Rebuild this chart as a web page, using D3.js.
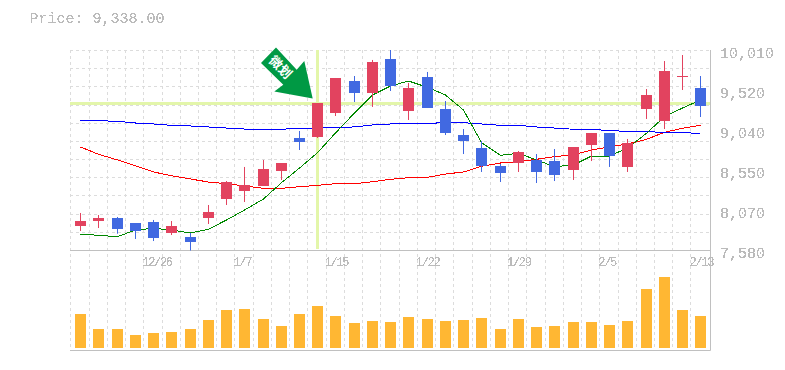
<!DOCTYPE html>
<html><head><meta charset="utf-8">
<style>html,body{margin:0;padding:0;background:#fff}svg{display:block}
text{font-family:"Liberation Mono",monospace}</style>
<script src="https://cdnjs.cloudflare.com/ajax/libs/d3/7.8.5/d3.min.js"></script>
</head><body><div id="c"></div>
<script>
const open_=[7878,7938,7975,7914,7926,7793,7744,7975,8206,8303,8364,8546,8947,8959,9251,9639,9494,9907,9275,9688,9299,8983,8825,8607,8643,8680,8667,8558,8862,9008,8595,9299,9153,9688,9554];
const close_=[7938,7975,7841,7817,7732,7878,7683,8048,8412,8376,8570,8643,8898,9372,9676,9494,9870,9579,9554,9311,9008,8910,8607,8522,8777,8534,8497,8837,9008,8728,8886,9469,9761,9700,9338];
const high=[8036,8011,7987,7914,7951,7938,7793,8133,8424,8595,8680,8643,9032,9372,9676,9700,9895,10016,9615,9749,9396,9056,8910,8631,8789,8752,8813,8837,9008,9008,8935,9542,9882,9955,9700];
const low=[7817,7853,7784,7720,7695,7768,7580,7902,8133,8169,8364,8437,8801,8947,9214,9384,9324,9518,9166,9311,8983,8752,8534,8412,8534,8400,8424,8437,8667,8595,8534,9178,9056,9530,9202];
const maGreen=[7777,7765,7748,7829,7850,7829,7793,7838,7951,8072,8206,8404,8582,8768,9008,9251,9469,9579,9639,9563,9469,9287,8890,8737,8761,8680,8598,8619,8728,8728,8825,9004,9206,9311,9409];
const maBlue=[9162,9157,9150,9129,9117,9101,9093,9081,9068,9056,9056,9053,9065,9065,9077,9081,9105,9117,9125,9125,9133,9133,9117,9101,9101,9081,9068,9053,9053,9036,9028,9028,9011,9011,9004];
const maRed=[8838,8749,8680,8610,8534,8489,8449,8412,8392,8364,8336,8336,8355,8372,8392,8392,8416,8445,8465,8469,8509,8534,8603,8643,8659,8688,8720,8744,8801,8838,8874,8931,9016,9065,9101];
const volume=[34,19,19,13,15,16,19,28,38,39,29,22,34,42,32,25,27,26,31,29,27,28,30,19,29,21,22,26,26,23,27,59,71,38,32];
const priceTicks=[10010,9520,9040,8550,8070,7580];
const dateTicks=[[4,"12/26"],[9,"1/7"],[14,"1/15"],[19,"1/22"],[24,"1/29"],[29,"2/5"],[34,"2/13"]];
const title="Price: 9,338.00";
const crossIndex=13, crossPrice=9372;

const W=785,H=370,red="#e2435f",blue="#4169e1",bar="#ffb733",muted="#bbbbbb",gridC="#dcdcdc",frame="#c0c0c0",cross="#e3f6aa";
const n=close_.length;
const x=d3.scaleLinear().domain([0,n]).range([70.3,708.7]);
const cx=i=>Math.round(x(i+.5)+.7)+.5;
const y=d3.scaleLinear().domain([7580,10010]).range([250.5,50.5]);
const v=d3.scaleLinear().domain([0,100]).range([348,248]);
const svg=d3.select("#c").append("svg").attr("width",W).attr("height",H);

// aliased look for text, as in the reference
const f=svg.append("defs").append("filter").attr("id","hard").attr("color-interpolation-filters","sRGB")
 .attr("x",0).attr("y",-.2).attr("width",1.1).attr("height",1.4);
f.append("feComponentTransfer").append("feFuncA").attr("type","discrete").attr("tableValues","0 0 1 1 1");

// grid
const gp=d3.range(12).map(k=>7580+k*2430/11);
svg.append("g").selectAll("line").data(gp).join("line")
 .attr("x1",70).attr("x2",710).attr("y1",d=>Math.floor(y(d))+.5).attr("y2",d=>Math.floor(y(d))+.5)
 .attr("stroke",gridC).attr("stroke-dasharray","3 3");
svg.append("g").selectAll("line").data(d3.range(n)).join("line")
 .attr("x1",i=>Math.round(x(i))+.5).attr("x2",i=>Math.round(x(i))+.5).attr("y1",50).attr("y2",350)
 .attr("stroke",gridC).attr("stroke-dasharray","3 3");

// crosshair
svg.append("line").attr("x1",70).attr("x2",710).attr("y1",y(crossPrice)+.5).attr("y2",y(crossPrice)+.5).attr("stroke",cross).attr("stroke-width",3);
svg.append("line").attr("x1",cx(crossIndex)).attr("x2",cx(crossIndex)).attr("y1",50).attr("y2",249).attr("stroke",cross).attr("stroke-width",3);

// frame
svg.append("path").attr("d","M710.5,50V350.5H70M70,250.5H710").attr("fill","none").attr("stroke",frame);

// volume
svg.append("g").selectAll("rect").data(volume).join("rect")
 .attr("x",(d,i)=>cx(i)-5.5).attr("width",11).attr("y",d=>v(d)).attr("height",d=>v(0)-v(d)).attr("fill",bar);

// moving averages
const line=d3.line().x((d,i)=>cx(i)).y(d=>y(d));
[[maRed,"#f00"],[maBlue,"#00f"],[maGreen,"#080"]].forEach(([s,c])=>{
 svg.append("path").attr("d",line(s)).attr("fill","none").attr("stroke",c).attr("stroke-width",1).attr("shape-rendering","crispEdges");
});

// candles
const g=svg.append("g");
const col=i=>close_[i]>=open_[i]?red:blue;
g.selectAll(".w").data(d3.range(n)).join("line").attr("class","w")
 .attr("x1",cx).attr("x2",cx).attr("y1",i=>y(high[i])).attr("y2",i=>y(low[i])).attr("stroke",col);
g.selectAll(".b").data(d3.range(n)).join("rect").attr("class","b")
 .attr("x",i=>cx(i)-5.5).attr("width",11)
 .attr("y",i=>Math.round(y(Math.max(open_[i],close_[i]))))
 .attr("height",i=>Math.max(1,Math.round(y(Math.min(open_[i],close_[i])))-Math.round(y(Math.max(open_[i],close_[i])))))
 .attr("fill",col);

// arrow
const a=svg.append("g").attr("transform",`translate(${cx(crossIndex)-4.8},${y(crossPrice)-4.5})`);
a.append("path").attr("d","M0,0L-8.4,-37.4L-16,-28.7L-36.7,-51L-51.7,-35.4L-29.4,-13.7L-38.4,-7Z").attr("fill","#009944");
a.append("text").attr("transform","translate(-32,-31.5) rotate(45)").attr("text-anchor","middle").attr("y",5)
 .attr("fill","#fff").attr("font-weight","bold").style("font-family","'Noto Sans CJK JP'").style("font-size","13px").text("微划");

// axes
const ay=d3.axisRight(y).tickValues(priceTicks).tickSize(0).tickPadding(9.5).tickFormat(d3.format(","));
const gy=svg.append("g").attr("transform","translate(710.5,0)").call(ay);
gy.select(".domain").remove();
gy.selectAll("text").attr("dy",0).attr("y",7).attr("fill",muted).style("font-size","15px").attr("filter","url(#hard)");

const ax=d3.axisBottom(x).tickValues(dateTicks.map(d=>d[0])).tickSize(0).tickPadding(0)
 .tickFormat(d=>dateTicks.find(t=>t[0]===d)[1]);
const gx=svg.append("g").attr("transform","translate(0,266)").call(ax);
gx.select(".domain").remove();
gx.selectAll("text").attr("dy",0).attr("y",0).attr("x",-1.5).attr("text-anchor","start").attr("fill",muted)
 .style("font-size","12px").attr("letter-spacing","-1.3px").attr("font-family","Liberation Mono").attr("filter","url(#hard)");

svg.append("text").attr("x",29.5).attr("y",23).attr("fill",muted).style("font-size","15px").attr("filter","url(#hard)").text(title);
</script></body></html>
